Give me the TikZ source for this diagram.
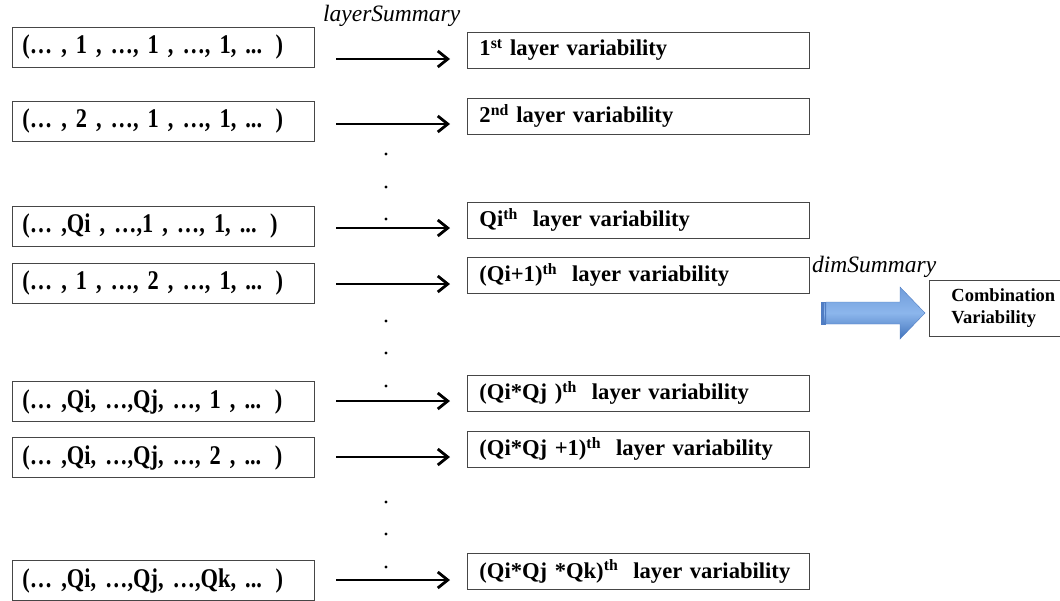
\documentclass[tikz,border=0pt]{standalone}
\usepackage{fontspec}
\setmainfont{Liberation Serif}
\newfontfamily\tuplefont[FakeStretch=0.83]{Liberation Serif}
\usetikzlibrary{arrows.meta}

\definecolor{frame}{RGB}{70,70,70}
\definecolor{bluetop}{RGB}{112,156,218}
\definecolor{bluemid}{RGB}{140,182,236}
\definecolor{bluebot}{RGB}{66,116,188}
\definecolor{blueedge}{RGB}{80,125,195}

\tikzset{
  tuplebox/.style={draw=frame, line width=0.9pt, anchor=west,
    minimum height=40pt, text width=282pt, inner xsep=10pt, inner ysep=0pt,
    align=left, font=\tuplefont\fontsize{27}{30}\selectfont\bfseries},
  layerbox/.style={draw=frame, line width=0.9pt, anchor=west,
    minimum height=36pt, text width=318pt, inner xsep=12pt, inner ysep=0pt,
    align=left, font=\fontsize{22.6}{26}\selectfont\bfseries},
  combobox/.style={draw=frame, line width=0.9pt, anchor=north west,
    minimum height=56pt, inner xsep=22pt, inner ysep=4pt, align=left,
    font=\fontsize{18.5}{22}\selectfont\bfseries},
  maparrow/.style={line width=2.6pt, -{Straight Barb[length=10pt,width=16pt,line width=2.8pt]}},
  tag/.style={anchor=base west, inner sep=0pt, font=\fontsize{23.5}{28}\selectfont\itshape},
  dot/.style={fill=black, draw=none},
}

\begin{document}
\begin{tikzpicture}[x=1pt,y=-1pt]
\useasboundingbox (0,0) rectangle (1060,600);

% tuples of layer indices
\node[tuplebox] (L1) at (12,47.5)  {(… , 1 , …, 1 , …, 1, ... )};
\node[tuplebox] (L2) at (12,121)   {(… , 2 , …, 1 , …, 1, ... )};
\node[tuplebox] (L3) at (12,226)   {(… ,Qi , …,1 , …, 1, ... )};
\node[tuplebox] (L4) at (12,283.5) {(… , 1 , …, 2 , …, 1, ... )};
\node[tuplebox] (L5) at (12,401.5) {(… ,Qi, …,Qj, …, 1 , ... )};
\node[tuplebox] (L6) at (12,457.5) {(… ,Qi, …,Qj, …, 2 , ... )};
\node[tuplebox] (L7) at (12,580.5) {(… ,Qi, …,Qj, …,Qk, ... )};

% per-layer variability results
\node[layerbox] (R1) at (467,50)    {1\textsuperscript{st} layer variability};
\node[layerbox] (R2) at (467,116)   {2\textsuperscript{nd} layer variability};
\node[layerbox] (R3) at (467,220)   {Qi\textsuperscript{th}\ \ layer variability};
\node[layerbox] (R4) at (467,275)   {(Qi+1)\textsuperscript{th}\ \ layer variability};
\node[layerbox] (R5) at (467,393)   {(Qi*Qj )\textsuperscript{th}\ \ layer variability};
\node[layerbox] (R6) at (467,449)   {(Qi*Qj +1)\textsuperscript{th}\ \ layer variability};
\node[layerbox] (R7) at (467,571.5) {(Qi*Qj *Qk)\textsuperscript{th}\ \ layer variability};

% arrow end points between the two columns
\foreach \i/\y in {1/59,2/124,3/228,4/284,5/401,6/457,7/580}{
  \coordinate (s\i) at (336,\y);
  \coordinate (e\i) at (450,\y);
}
\foreach \i in {1,...,7}{
  \draw[maparrow] (s\i) -- (e\i);
}

\node[tag] (ls) at (323,21) {layerSummary};

% ellipsis dots
\foreach \y in {154,187,219,321,353,386,502,534,567}{
  \fill[dot] (386,\y) circle (1.7pt);
}

% summary over all layers
\node[tag] (ds) at (812,272) {dimSummary};
\node[combobox] (C) at (929,280) {Combination\\Variability};

\shade[top color=bluetop, bottom color=bluebot, middle color=bluemid, draw=blueedge, line width=0.4pt]
  (826,302) -- (900,302) -- (900,287) -- (925,313) -- (900,339) -- (900,324) -- (826,324) -- cycle;
\shade[top color=bluetop, bottom color=bluebot, middle color=bluemid, draw=blueedge, line width=0.3pt]
  (821,302) rectangle (822.2,324);
\shade[top color=bluetop, bottom color=bluebot, middle color=bluemid, draw=blueedge, line width=0.3pt]
  (823.4,302) rectangle (824.8,324);
\end{tikzpicture}
\end{document}
